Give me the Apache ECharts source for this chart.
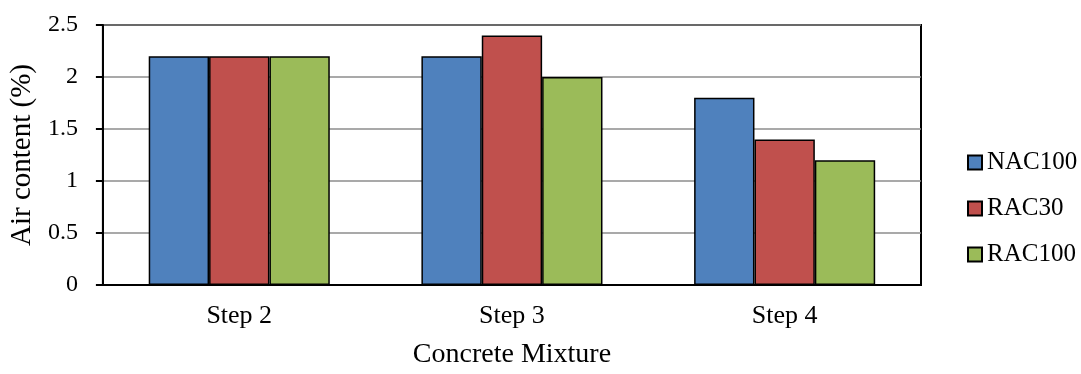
<!DOCTYPE html>
<html><head><meta charset="utf-8">
<script src="https://cdn.jsdelivr.net/npm/echarts@6/dist/echarts.min.js"></script>
<style>html,body{margin:0;padding:0;background:#fff}#c{width:1081px;height:374px}</style>
</head><body><div id="c"></div>
<script>
const categories = ['Step 2', 'Step 3', 'Step 4'];
const NAC100 = [2.2, 2.2, 1.8];
const RAC30 = [2.2, 2.4, 1.4];
const RAC100 = [2.2, 2.0, 1.2];
const seriesNames = ['NAC100', 'RAC30', 'RAC100'];
const colors = ['#4F81BD', '#C0504D', '#9BBB59'];
const font = '"Liberation Serif", "Times New Roman", serif';
const chart = echarts.init(document.getElementById('c'), null, {renderer: 'canvas'});
const vals = [NAC100, RAC30, RAC100];
chart.setOption({
  animation: false,
  textStyle: {fontFamily: font, color: '#000'},
  grid: {left: 102, right: 160, top: 25, bottom: 83, show: true, borderColor: '#000', borderWidth: 2, backgroundColor: 'transparent'},
  legend: {
    orient: 'vertical', left: 962, top: 145, itemWidth: 14, itemHeight: 14, itemGap: 21,
    icon: 'rect',
    textStyle: {fontFamily: font, fontSize: 25, color: '#000', lineHeight: 25},
    data: seriesNames
  },
  xAxis: {
    type: 'category', data: categories,
    axisLine: {lineStyle: {color: '#000', width: 2}},
    axisTick: {show: false},
    axisLabel: {fontFamily: font, fontSize: 26, color: '#000', margin: 18},
    name: 'Concrete Mixture', nameLocation: 'middle', nameGap: 56,
    nameTextStyle: {fontFamily: font, fontSize: 28, color: '#000'}
  },
  yAxis: {
    type: 'value', min: 0, max: 2.5, interval: 0.5,
    axisLine: {show: true, lineStyle: {color: '#000', width: 2}},
    axisTick: {show: true, length: 7, lineStyle: {color: '#000', width: 2}},
    splitLine: {lineStyle: {color: '#8c8c8c', width: 1.5}},
    axisLabel: {fontFamily: font, fontSize: 24, color: '#000', margin: 25},
    name: 'Air content (%)', nameLocation: 'middle', nameGap: 64,
    nameTextStyle: {fontFamily: font, fontSize: 29, color: '#000'}
  },
  series: seriesNames.map((n, i) => ({
    name: n, type: 'bar', data: vals[i], barGap: '0%', barCategoryGap: '33.6%',
    itemStyle: {color: colors[i], borderColor: '#000', borderWidth: 1.5}
  }))
});
</script></body></html>
